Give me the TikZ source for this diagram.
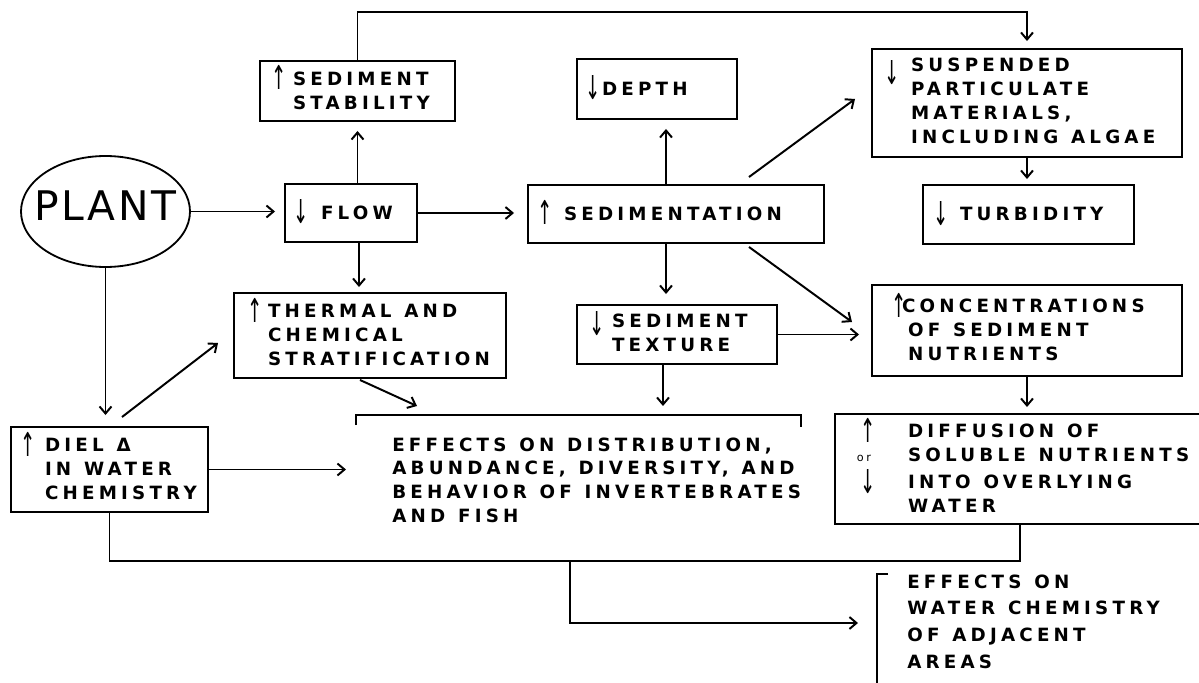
\documentclass[tikz,border=0pt]{standalone}
\usepackage{fontspec}
\usepackage{graphicx}
\setmainfont{DejaVu Sans}[LetterSpace=23]
\newfontfamily\plainfont{DejaVu Sans}[LetterSpace=6]
\newfontfamily\arrfont{DejaVu Sans}
\usetikzlibrary{arrows.meta,shapes.geometric,calc}
\newcommand\tb[1]{\begin{tabular}{@{}l@{}}#1\end{tabular}}
\newcommand\w{\hspace{0.7em}}
\newcommand\up{\raisebox{-3pt}{\scalebox{1}[1.8]{\arrfont\mdseries ↑}}}
\newcommand\dn{\raisebox{-3pt}{\scalebox{1}[1.8]{\arrfont\mdseries ↓}}}
\newcommand\bx[7]{%
  \node[box, minimum width={(#4-#2)*0.025cm}, minimum height={(#5-#3)*0.025cm},
        text width={(#4-#2-2*#6)*0.025cm}, inner xsep={#6*0.025cm}]
        (#1) at ({(#2+#4)/2},{(#3+#5)/2}) {\tb{#7}};}
\begin{document}
\begin{tikzpicture}[x=0.025cm,y=-0.025cm,
  box/.style={draw, line width=1.4pt, rectangle, align=left, inner ysep=0pt,
              font=\fontsize{13}{17}\selectfont\bfseries},
  txt/.style={align=left, inner ysep=0pt, font=\fontsize{13}{17}\selectfont\bfseries},
  ln/.style={line width=1.4pt},
  arr/.style={line width=1.4pt, -{Straight Barb[length=5pt,width=8.5pt]}}
]
\useasboundingbox (0,0) rectangle (1199,683);

% ellipse
\node[draw, ellipse, line width=1.3pt, minimum width={169*0.025cm},
      minimum height={111*0.025cm}, inner sep=0pt,
      font=\plainfont\fontsize{29}{29}\selectfont]
      (plant) at (105.5,211.5) {\makebox[0pt]{\raisebox{9pt}{PLANT}}};

% boxes
\bx{sedstab}{260}{61}{455}{121}{11}{\makebox[0.55cm][l]{\up}SEDIMENT\\\hspace*{0.55cm}STABILITY}
\bx{depth}{577}{59}{737}{119}{8}{\makebox[0.425cm][l]{\dn}DEPTH}
\bx{susp}{872}{49}{1182}{157}{12}{\makebox[0.675cm][l]{\smash{\raisebox{-6pt}{\dn}}}SUSPENDED\\\hspace*{0.675cm}PARTICULATE\\\hspace*{0.675cm}MATERIALS,\\\hspace*{0.675cm}INCLUDING\w ALGAE}
\bx{flow}{285}{184}{417}{242}{8}{\makebox[0.7cm][l]{\dn}FLOW}
\bx{sed}{528}{185}{824}{243}{9}{\makebox[0.675cm][l]{\up}SEDIMENTATION}
\bx{turb}{923}{185}{1134}{244}{10}{\makebox[0.675cm][l]{\dn}TURBIDITY}
\bx{thermal}{234}{293}{506}{378}{13}{\makebox[0.525cm][l]{\up}THERMAL\w AND\\\hspace*{0.525cm}CHEMICAL\\\hspace*{0.525cm}STRATIFICATION}
\bx{texture}{577}{305}{777}{364}{12}{\makebox[0.575cm][l]{\smash{\raisebox{-3pt}{\dn}}}SEDIMENT\\\hspace*{0.575cm}TEXTURE}
\bx{conc}{872}{285}{1182}{376}{19}{\makebox[0.275cm][l]{\up}CONCENTRATIONS\\\hspace*{0.425cm}OF\w SEDIMENT\\\hspace*{0.425cm}NUTRIENTS}
\bx{diff}{835}{414}{1205}{524}{25}{\makebox[1.2cm][l]{\up}DIFFUSION\w OF\\\makebox[1.2cm][l]{\makebox[0.2cm]{\mdseries\fontsize{8}{8}\selectfont or}}SOLUBLE\w NUTRIENTS\\\makebox[1.2cm][l]{\dn}INTO\w OVERLYING\\\hspace*{1.2cm}WATER}
\bx{diel}{11}{427}{208}{512}{9}{\makebox[0.625cm][l]{\up}DIEL\w Δ\\\hspace*{0.625cm}IN\w WATER\\\hspace*{0.625cm}CHEMISTRY}

% open-bracket effect nodes
\node[txt, anchor=north west, inner xsep=0.9cm, inner ysep=0.475cm, text width={372*0.025cm}]
  (eff) at (356,415) {\tb{EFFECTS\w ON\w DISTRIBUTION,\\ABUNDANCE,\w DIVERSITY,\w AND\\BEHAVIOR\w OF\w INVERTEBRATES\\AND\w FISH}};
\draw[ln] ($(eff.north west)+(0,10)$) -- (eff.north west) -- (eff.north east) -- ++(0,12);

\node[txt, anchor=west, inner xsep=0.75cm, text width={300*0.025cm},
      font=\fontsize{13}{19}\selectfont\bfseries]
  (fin) at (877,623) {\tb{EFFECTS\w ON\\WATER\w CHEMISTRY\\OF\w ADJACENT\\AREAS}};
\draw[ln] ($(fin.west)+(11,-49)$) -- ($(fin.west)+(0,-49)$) -- ($(fin.west)+(0,75)$);

% connectors
\draw[arr, shorten >=0.225cm] (plant.east) -- (plant.east -| flow.west);
\draw[arr, shorten >=0.325cm] (flow.east) -- (flow.east -| sed.west);
\draw[arr, shorten >=0.225cm] (sedstab.south |- flow.north) -- (sedstab.south);
\coordinate (f1) at ($(flow.south)+(8,0)$);
\draw[arr, shorten >=0.125cm] (f1) -- (f1 |- thermal.north);
\draw[arr, shorten >=0.175cm] (sedstab.north) -- ++(0,-48) -| (susp.north);
\coordinate (s2) at ($(sed.north)+(-10,0)$);
\draw[arr, shorten >=0.225cm] (s2) -- (s2 |- depth.south);
\coordinate (s1) at ($(sed.south)+(-10,0)$);
\draw[arr, shorten >=0.25cm] (s1) -- (s1 |- texture.north);
\draw[arr] ($(sed.north)+(73,-7)$) -- ($(susp.west)+(-16,-4)$);
\draw[arr] ($(sed.south)+(73,3)$) -- ($(conc.west)+(-19,-8.5)$);
\draw[arr, shorten >=0.3cm] (texture.east) -- (texture.east -| conc.west);
\draw[arr, shorten >=0.125cm] (susp.south) -- (susp.south |- turb.north);
\draw[arr, shorten >=0.15cm] (conc.south) -- (conc.south |- diff.north);
\draw[arr, shorten >=0.275cm] (plant.south) -- (plant.south |- diel.north);
\draw[arr] ($(diel.north)+(12.5,-9)$) -- ($(thermal.west)+(-15,7.5)$);
\draw[arr, shorten >=0.25cm] (diel.east) -- (diel.east -| eff.west);
\draw[arr] ($(thermal.south)+(-10,1)$) -- ($(eff.north west)+(61,-9)$);
\coordinate (t1) at ($(texture.south)+(-14,0)$);
\draw[arr, shorten >=0.225cm] (t1) -- (t1 |- eff.north);
\coordinate (bl) at (570,561);
\draw[ln] (diel.south) |- (bl) -| (diff.south);
\draw[arr, shorten >=0.475cm] (bl) |- (fin.west);
\end{tikzpicture}
\end{document}
